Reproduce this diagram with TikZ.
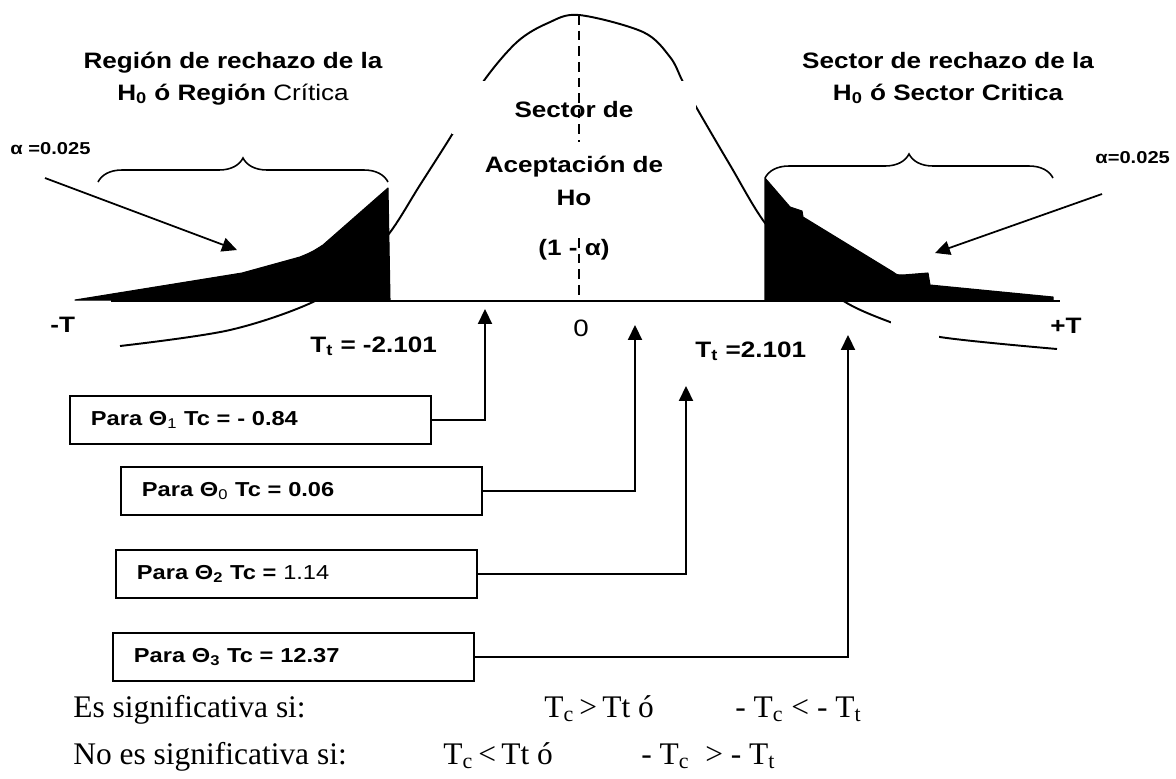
\documentclass[tikz,border=0pt]{standalone}
\usepackage{fontspec}
\setmainfont{Liberation Serif}
\newfontfamily\labfont[FakeStretch=1.17]{Liberation Sans}
\usetikzlibrary{arrows.meta,decorations.pathreplacing}

\begin{document}
\begin{tikzpicture}[x=0.02cm,y=-0.02cm,
    curve/.style={line width=1.1pt},
    tail/.style={fill=black,draw=black,line width=0.6pt,line join=round},
    arr/.style={line width=1pt,-{Triangle[length=8.5pt,width=8pt]}},
    brc/.style={line width=0.9pt,decorate,decoration={brace,amplitude=0.48cm}},
    lab/.style={font=\labfont\bfseries\fontsize{12.7}{15}\selectfont,inner sep=0pt},
    small/.style={font=\labfont\bfseries\fontsize{9.8}{12}\selectfont,inner sep=0pt,anchor=base west},
    parabox/.style={draw,line width=1.1pt,fill=white,anchor=north west,
      minimum height=0.96cm,inner xsep=0.42cm,inner ysep=0pt,text width=6.38cm,align=left,
      font=\labfont\bfseries\fontsize{11.5}{14}\selectfont},
    cond/.style={font=\fontsize{17.9}{21}\selectfont,anchor=base west,inner sep=0pt}]
  \useasboundingbox (0,0) rectangle (1176,778);
  \fill[white] (0,0) rectangle (1176,778);

  \draw[curve] plot[smooth,tension=0.55] coordinates {(120,346) (230,330) (315,301) (352,270)
    (388,235) (420,185) (453,133) (483,82) (517,42) (548,23) (579,15) (643,32) (670,57)
    (682,80) (695,105) (730,165) (765,223) (805,265) (842,300) (890,322) (940,337) (1057,349)};
  \fill[white] (452,81) rectangle (696,134);
  \fill[white] (891,316) rectangle (939,342);

  \draw[line width=1.1pt] (111,301) -- (1060,301);
  \draw[tail] (75,300) -- (242,273) -- (300,257) .. controls (312,252) .. (323,245)
    -- (388,188) -- (390,300) -- cycle;
  \draw[tail] (765,178) -- (790,207) -- (802,211) -- (803,217) -- (893,272)
    .. controls (897,275) .. (903,275) -- (928,273) -- (930,285) -- (1053,297)
    -- (1053,300) -- (765,300) -- cycle;

  \draw[line width=0.85pt,dash pattern=on 5.5pt off 3.4pt] (579,15) -- (579,142);
  \draw[line width=0.85pt,dash pattern=on 5.5pt off 3.4pt] (579,238) -- (579,301);

  \draw[brc] (98,182) -- (388,182);
  \draw[brc] (765,178) -- (1053,178);

  \node[lab,anchor=base] (tl1) at (233,68) {Región de rechazo de la};
  \node[lab,anchor=base] (tl2) at (233,100) {H\textsubscript{0} ó Región {\mdseries Crítica}};
  \node[lab,anchor=base] (tr1) at (948,68) {Sector de rechazo de la};
  \node[lab,anchor=base] (tr2) at (948,100) {H\textsubscript{0} ó Sector Critica};

  \node[small] (alfaL) at (10,154) {α =0.025};
  \node[small] (alfaR) at (1095,163) {α=0.025};
  \coordinate (aL0) at (45,178);
  \coordinate (aL1) at (237,250);
  \coordinate (aR0) at (1102,194);
  \coordinate (aR1) at (935,253);
  \draw[arr] (aL0) -- (aL1);
  \draw[arr] (aR0) -- (aR1);

  \node[lab,anchor=base] (sec) at (574,117) {Sector de};
  \node[lab,anchor=base] (acep) at (574,172) {Aceptación de};
  \node[lab,anchor=base] (ho) at (574,205) {Ho};
  \node[lab,anchor=base] (unoa) at (574,255) {(1 - α)};

  \node[lab,anchor=base west] (mT) at (50,332) {-T};
  \node[lab,anchor=base west] (pT) at (1050,333) {+T};
  \node[font=\labfont\fontsize{13.5}{16}\selectfont,inner sep=0pt,anchor=base] (cero) at (581,336) {0};
  \node[lab,anchor=base west] (ttL) at (310,352) {T\textsubscript{t} = -2.101};
  \node[lab,anchor=base west] (ttR) at (695,357) {T\textsubscript{t} =2.101};

  \node[parabox] (b1) at (69,395) {Para Θ\textsubscript{\mdseries 1} Tc = - 0.84};
  \node[parabox] (b2) at (120,466) {Para Θ\textsubscript{\mdseries 0} Tc = 0.06};
  \node[parabox] (b3) at (115,549) {Para Θ\textsubscript{2} Tc = {\mdseries 1.14}};
  \node[parabox] (b4) at (112,632) {Para Θ\textsubscript{3} Tc = 12.37};
  \coordinate (t1) at (485,309);
  \coordinate (t2) at (635,325);
  \coordinate (t3) at (686,386);
  \coordinate (t4) at (848,335);
  \draw[arr] (b1.east) -| (t1);
  \draw[arr] (b2.east) -| (t2);
  \draw[arr] (b3.east) -| (t3);
  \draw[arr] (b4.east) -| (t4);

  \node[cond] (es) at (73,717) {Es significativa si:};
  \node[cond] (es1) at (544,717) {T\textsubscript{c}\,>\,Tt ó};
  \node[cond] (es2) at (735,717) {- T\textsubscript{c} < - T\textsubscript{t}};
  \node[cond] (no) at (73,764) {No es significativa si:};
  \node[cond] (no1) at (443,764) {T\textsubscript{c}\,<\,Tt ó};
  \node[cond] (no2) at (641,764) {- T\textsubscript{c}\ \ >\ - T\textsubscript{t}};
\end{tikzpicture}
\end{document}
